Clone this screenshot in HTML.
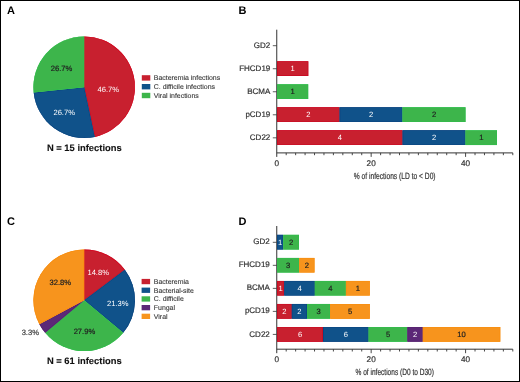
<!DOCTYPE html>
<html><head><meta charset="utf-8"><style>
html,body{margin:0;padding:0;background:#fff;}
svg{display:block;font-family:"Liberation Sans", sans-serif;text-rendering:geometricPrecision;filter:blur(0.3px);}
</style></head><body>
<svg width="520" height="382" viewBox="0 0 520 382">
<rect width="520" height="382" fill="#fff"/>
<rect x="0.5" y="0.5" width="519" height="381" fill="none" stroke="#000" stroke-width="1"/>
<text x="7" y="14.4" font-size="11" fill="#000" text-anchor="start" font-weight="bold" >A</text>
<text x="238.5" y="14.4" font-size="11" fill="#000" text-anchor="start" font-weight="bold" >B</text>
<text x="7" y="225.3" font-size="11" fill="#000" text-anchor="start" font-weight="bold" >C</text>
<text x="238.5" y="225.3" font-size="11" fill="#000" text-anchor="start" font-weight="bold" >D</text>
<clipPath id="c1"><path d="M84.20,87.20 L84.20,36.40 A50.8,50.8 0 0 1 94.76,136.89 Z"/></clipPath><path d="M84.20,87.20 L84.20,36.40 A50.8,50.8 0 0 1 94.76,136.89 Z" fill="#C8202F"/><path d="M84.20,87.20 L84.20,36.40 A50.8,50.8 0 0 1 94.76,136.89 Z" fill="none" stroke="#D4061F" stroke-width="1.3" clip-path="url(#c1)"/>
<clipPath id="c2"><path d="M84.20,87.20 L94.76,136.89 A50.8,50.8 0 0 1 33.68,92.51 Z"/></clipPath><path d="M84.20,87.20 L94.76,136.89 A50.8,50.8 0 0 1 33.68,92.51 Z" fill="#10528A"/><path d="M84.20,87.20 L94.76,136.89 A50.8,50.8 0 0 1 33.68,92.51 Z" fill="none" stroke="#08437F" stroke-width="1.3" clip-path="url(#c2)"/>
<clipPath id="c3"><path d="M84.20,87.20 L33.68,92.51 A50.8,50.8 0 0 1 84.20,36.40 Z"/></clipPath><path d="M84.20,87.20 L33.68,92.51 A50.8,50.8 0 0 1 84.20,36.40 Z" fill="#3DB54B"/><path d="M84.20,87.20 L33.68,92.51 A50.8,50.8 0 0 1 84.20,36.40 Z" fill="none" stroke="#30BE4C" stroke-width="1.3" clip-path="url(#c3)"/>
<text x="108.3" y="92.0" font-size="7.6" fill="#fff" text-anchor="middle" font-weight="normal" >46.7%</text>
<text x="61.6" y="70.5" font-size="7.6" fill="#222" text-anchor="middle" font-weight="normal" stroke="#222" stroke-width="0.2" >26.7%</text>
<text x="64.2" y="114.6" font-size="7.6" fill="#fff" text-anchor="middle" font-weight="normal" >26.7%</text>
<rect x="141.8" y="75.20" width="8.5" height="5.4" fill="#C8202F"/>
<text x="153.8" y="80.3" font-size="6.95" fill="#3a3a3a" text-anchor="start" font-weight="normal" stroke="#3a3a3a" stroke-width="0.12" >Bacteremia infections</text>
<rect x="141.8" y="84.00" width="8.5" height="5.4" fill="#10528A"/>
<text x="153.8" y="89.1" font-size="6.95" fill="#3a3a3a" text-anchor="start" font-weight="normal" stroke="#3a3a3a" stroke-width="0.12" >C. difficile infections</text>
<rect x="141.8" y="92.80" width="8.5" height="5.4" fill="#3DB54B"/>
<text x="153.8" y="97.9" font-size="6.95" fill="#3a3a3a" text-anchor="start" font-weight="normal" stroke="#3a3a3a" stroke-width="0.12" >Viral infections</text>
<text x="84.3" y="151.3" font-size="9.4" fill="#111" text-anchor="middle" font-weight="bold" stroke="#111" stroke-width="0.1" >N = 15 infections</text>
<clipPath id="c4"><path d="M84.20,300.30 L84.20,249.50 A50.8,50.8 0 0 1 124.83,269.81 Z"/></clipPath><path d="M84.20,300.30 L84.20,249.50 A50.8,50.8 0 0 1 124.83,269.81 Z" fill="#C8202F"/><path d="M84.20,300.30 L84.20,249.50 A50.8,50.8 0 0 1 124.83,269.81 Z" fill="none" stroke="#D4061F" stroke-width="1.3" clip-path="url(#c4)"/>
<clipPath id="c5"><path d="M84.20,300.30 L124.83,269.81 A50.8,50.8 0 0 1 123.21,332.84 Z"/></clipPath><path d="M84.20,300.30 L124.83,269.81 A50.8,50.8 0 0 1 123.21,332.84 Z" fill="#10528A"/><path d="M84.20,300.30 L124.83,269.81 A50.8,50.8 0 0 1 123.21,332.84 Z" fill="none" stroke="#08437F" stroke-width="1.3" clip-path="url(#c5)"/>
<clipPath id="c6"><path d="M84.20,300.30 L123.21,332.84 A50.8,50.8 0 0 1 45.19,332.84 Z"/></clipPath><path d="M84.20,300.30 L123.21,332.84 A50.8,50.8 0 0 1 45.19,332.84 Z" fill="#3DB54B"/><path d="M84.20,300.30 L123.21,332.84 A50.8,50.8 0 0 1 45.19,332.84 Z" fill="none" stroke="#30BE4C" stroke-width="1.3" clip-path="url(#c6)"/>
<clipPath id="c7"><path d="M84.20,300.30 L45.19,332.84 A50.8,50.8 0 0 1 39.36,324.17 Z"/></clipPath><path d="M84.20,300.30 L45.19,332.84 A50.8,50.8 0 0 1 39.36,324.17 Z" fill="#5C2877"/><path d="M84.20,300.30 L45.19,332.84 A50.8,50.8 0 0 1 39.36,324.17 Z" fill="none" stroke="#55206F" stroke-width="1.3" clip-path="url(#c7)"/>
<clipPath id="c8"><path d="M84.20,300.30 L39.36,324.17 A50.8,50.8 0 0 1 84.20,249.50 Z"/></clipPath><path d="M84.20,300.30 L39.36,324.17 A50.8,50.8 0 0 1 84.20,249.50 Z" fill="#F7941D"/><path d="M84.20,300.30 L39.36,324.17 A50.8,50.8 0 0 1 84.20,249.50 Z" fill="none" stroke="#F88C0C" stroke-width="1.3" clip-path="url(#c8)"/>
<text x="98.2" y="275.0" font-size="7.6" fill="#fff" text-anchor="middle" font-weight="normal" >14.8%</text>
<text x="117.8" y="305.8" font-size="7.6" fill="#fff" text-anchor="middle" font-weight="normal" >21.3%</text>
<text x="84.4" y="334.4" font-size="7.6" fill="#222" text-anchor="middle" font-weight="normal" stroke="#222" stroke-width="0.2" >27.9%</text>
<text x="60.3" y="285.0" font-size="7.6" fill="#222" text-anchor="middle" font-weight="normal" stroke="#222" stroke-width="0.2" >32.8%</text>
<text x="30.3" y="334.5" font-size="7.6" fill="#444" text-anchor="middle" font-weight="normal" stroke="#444" stroke-width="0.2" >3.3%</text>
<rect x="141.6" y="278.90" width="8.5" height="5.3" fill="#C8202F"/>
<text x="153.8" y="284.0" font-size="6.95" fill="#3a3a3a" text-anchor="start" font-weight="normal" stroke="#3a3a3a" stroke-width="0.12" >Bacteremia</text>
<rect x="141.6" y="287.60" width="8.5" height="5.3" fill="#10528A"/>
<text x="153.8" y="292.7" font-size="6.95" fill="#3a3a3a" text-anchor="start" font-weight="normal" stroke="#3a3a3a" stroke-width="0.12" >Bacterial-site</text>
<rect x="141.6" y="296.30" width="8.5" height="5.3" fill="#3DB54B"/>
<text x="153.8" y="301.4" font-size="6.95" fill="#3a3a3a" text-anchor="start" font-weight="normal" stroke="#3a3a3a" stroke-width="0.12" >C. difficile</text>
<rect x="141.6" y="305.00" width="8.5" height="5.3" fill="#5C2877"/>
<text x="153.8" y="310.1" font-size="6.95" fill="#3a3a3a" text-anchor="start" font-weight="normal" stroke="#3a3a3a" stroke-width="0.12" >Fungal</text>
<rect x="141.6" y="313.70" width="8.5" height="5.3" fill="#F7941D"/>
<text x="153.8" y="318.8" font-size="6.95" fill="#3a3a3a" text-anchor="start" font-weight="normal" stroke="#3a3a3a" stroke-width="0.12" >Viral</text>
<text x="84.3" y="364.2" font-size="9.4" fill="#111" text-anchor="middle" font-weight="bold" stroke="#111" stroke-width="0.1" >N = 61 infections</text>
<line x1="276.75" y1="29.7" x2="276.75" y2="156.9" stroke="#333" stroke-width="1"/>
<line x1="276.75" y1="152.9" x2="512.80" y2="152.9" stroke="#333" stroke-width="1"/>
<line x1="286.19" y1="152.9" x2="286.19" y2="155.20000000000002" stroke="#333" stroke-width="0.9"/>
<line x1="295.63" y1="152.9" x2="295.63" y2="155.20000000000002" stroke="#333" stroke-width="0.9"/>
<line x1="305.08" y1="152.9" x2="305.08" y2="155.20000000000002" stroke="#333" stroke-width="0.9"/>
<line x1="314.52" y1="152.9" x2="314.52" y2="155.20000000000002" stroke="#333" stroke-width="0.9"/>
<line x1="323.96" y1="152.9" x2="323.96" y2="155.20000000000002" stroke="#333" stroke-width="0.9"/>
<line x1="333.40" y1="152.9" x2="333.40" y2="155.20000000000002" stroke="#333" stroke-width="0.9"/>
<line x1="342.84" y1="152.9" x2="342.84" y2="155.20000000000002" stroke="#333" stroke-width="0.9"/>
<line x1="352.29" y1="152.9" x2="352.29" y2="155.20000000000002" stroke="#333" stroke-width="0.9"/>
<line x1="361.73" y1="152.9" x2="361.73" y2="155.20000000000002" stroke="#333" stroke-width="0.9"/>
<line x1="371.17" y1="152.9" x2="371.17" y2="156.9" stroke="#333" stroke-width="0.9"/>
<line x1="380.61" y1="152.9" x2="380.61" y2="155.20000000000002" stroke="#333" stroke-width="0.9"/>
<line x1="390.05" y1="152.9" x2="390.05" y2="155.20000000000002" stroke="#333" stroke-width="0.9"/>
<line x1="399.50" y1="152.9" x2="399.50" y2="155.20000000000002" stroke="#333" stroke-width="0.9"/>
<line x1="408.94" y1="152.9" x2="408.94" y2="155.20000000000002" stroke="#333" stroke-width="0.9"/>
<line x1="418.38" y1="152.9" x2="418.38" y2="155.20000000000002" stroke="#333" stroke-width="0.9"/>
<line x1="427.82" y1="152.9" x2="427.82" y2="155.20000000000002" stroke="#333" stroke-width="0.9"/>
<line x1="437.26" y1="152.9" x2="437.26" y2="155.20000000000002" stroke="#333" stroke-width="0.9"/>
<line x1="446.71" y1="152.9" x2="446.71" y2="155.20000000000002" stroke="#333" stroke-width="0.9"/>
<line x1="456.15" y1="152.9" x2="456.15" y2="155.20000000000002" stroke="#333" stroke-width="0.9"/>
<line x1="465.59" y1="152.9" x2="465.59" y2="156.9" stroke="#333" stroke-width="0.9"/>
<line x1="475.03" y1="152.9" x2="475.03" y2="155.20000000000002" stroke="#333" stroke-width="0.9"/>
<line x1="484.47" y1="152.9" x2="484.47" y2="155.20000000000002" stroke="#333" stroke-width="0.9"/>
<line x1="493.92" y1="152.9" x2="493.92" y2="155.20000000000002" stroke="#333" stroke-width="0.9"/>
<line x1="503.36" y1="152.9" x2="503.36" y2="155.20000000000002" stroke="#333" stroke-width="0.9"/>
<line x1="512.80" y1="152.9" x2="512.80" y2="155.20000000000002" stroke="#333" stroke-width="0.9"/>
<text x="276.75" y="165.50" font-size="8.2" fill="#333333" text-anchor="middle" font-weight="normal" stroke="#333333" stroke-width="0.2" >0</text>
<text x="371.17" y="165.50" font-size="8.2" fill="#333333" text-anchor="middle" font-weight="normal" stroke="#333333" stroke-width="0.2" >20</text>
<text x="465.59" y="165.50" font-size="8.2" fill="#333333" text-anchor="middle" font-weight="normal" stroke="#333333" stroke-width="0.2" >40</text>
<text x="394.7" y="178.80" font-size="9" fill="#333333" text-anchor="middle" font-weight="normal" stroke="#333333" stroke-width="0.2" textLength="81.8" lengthAdjust="spacingAndGlyphs">% of infections (LD to &lt; D0)</text>
<line x1="272.8" y1="45.70" x2="276.75" y2="45.70" stroke="#333" stroke-width="0.8"/>
<text x="270.3" y="47.80" font-size="8.0" fill="#333333" text-anchor="end" font-weight="normal" stroke="#333333" stroke-width="0.2" >GD2</text>
<line x1="272.8" y1="68.73" x2="276.75" y2="68.73" stroke="#333" stroke-width="0.8"/>
<text x="270.3" y="70.83" font-size="8.0" fill="#333333" text-anchor="end" font-weight="normal" stroke="#333333" stroke-width="0.2" >FHCD19</text>
<clipPath id="c9"><path d="M277.00,61.28 H308.30 V75.98 H277.00 Z"/></clipPath><path d="M277.00,61.28 H308.30 V75.98 H277.00 Z" fill="#C8202F"/><path d="M277.00,61.28 H308.30 V75.98 H277.00 Z" fill="none" stroke="#CA0620" stroke-width="1.3" clip-path="url(#c9)"/>
<text x="292.65" y="71.23" font-size="7.6" fill="#fff" text-anchor="middle" font-weight="normal" >1</text>
<line x1="272.8" y1="91.76" x2="276.75" y2="91.76" stroke="#333" stroke-width="0.8"/>
<text x="270.3" y="93.86" font-size="8.0" fill="#333333" text-anchor="end" font-weight="normal" stroke="#333333" stroke-width="0.2" >BCMA</text>
<clipPath id="c10"><path d="M277.00,84.31 H308.20 V99.01 H277.00 Z"/></clipPath><path d="M277.00,84.31 H308.20 V99.01 H277.00 Z" fill="#3DB54B"/><path d="M277.00,84.31 H308.20 V99.01 H277.00 Z" fill="none" stroke="#30BE4C" stroke-width="1.3" clip-path="url(#c10)"/>
<text x="292.60" y="94.26" font-size="7.6" fill="#222" text-anchor="middle" font-weight="normal" stroke="#222" stroke-width="0.2" >1</text>
<line x1="272.8" y1="114.79" x2="276.75" y2="114.79" stroke="#333" stroke-width="0.8"/>
<text x="270.3" y="116.89" font-size="8.0" fill="#333333" text-anchor="end" font-weight="normal" stroke="#333333" stroke-width="0.2" >pCD19</text>
<clipPath id="c11"><path d="M277.00,107.34 H339.60 V122.04 H277.00 Z"/></clipPath><path d="M277.00,107.34 H339.60 V122.04 H277.00 Z" fill="#C8202F"/><path d="M277.00,107.34 H339.60 V122.04 H277.00 Z" fill="none" stroke="#CA0620" stroke-width="1.3" clip-path="url(#c11)"/>
<text x="308.30" y="117.29" font-size="7.6" fill="#fff" text-anchor="middle" font-weight="normal" >2</text>
<clipPath id="c12"><path d="M339.60,107.34 H402.50 V122.04 H339.60 Z"/></clipPath><path d="M339.60,107.34 H402.50 V122.04 H339.60 Z" fill="#10528A"/><path d="M339.60,107.34 H402.50 V122.04 H339.60 Z" fill="none" stroke="#08437F" stroke-width="1.3" clip-path="url(#c12)"/>
<text x="371.05" y="117.29" font-size="7.6" fill="#fff" text-anchor="middle" font-weight="normal" >2</text>
<clipPath id="c13"><path d="M402.50,107.34 H465.50 V122.04 H402.50 Z"/></clipPath><path d="M402.50,107.34 H465.50 V122.04 H402.50 Z" fill="#3DB54B"/><path d="M402.50,107.34 H465.50 V122.04 H402.50 Z" fill="none" stroke="#30BE4C" stroke-width="1.3" clip-path="url(#c13)"/>
<text x="434.00" y="117.29" font-size="7.6" fill="#222" text-anchor="middle" font-weight="normal" stroke="#222" stroke-width="0.2" >2</text>
<line x1="272.8" y1="137.82" x2="276.75" y2="137.82" stroke="#333" stroke-width="0.8"/>
<text x="270.3" y="139.92" font-size="8.0" fill="#333333" text-anchor="end" font-weight="normal" stroke="#333333" stroke-width="0.2" >CD22</text>
<clipPath id="c14"><path d="M277.00,130.37 H402.60 V145.07 H277.00 Z"/></clipPath><path d="M277.00,130.37 H402.60 V145.07 H277.00 Z" fill="#C8202F"/><path d="M277.00,130.37 H402.60 V145.07 H277.00 Z" fill="none" stroke="#CA0620" stroke-width="1.3" clip-path="url(#c14)"/>
<text x="339.80" y="140.32" font-size="7.6" fill="#fff" text-anchor="middle" font-weight="normal" >4</text>
<clipPath id="c15"><path d="M402.60,130.37 H465.50 V145.07 H402.60 Z"/></clipPath><path d="M402.60,130.37 H465.50 V145.07 H402.60 Z" fill="#10528A"/><path d="M402.60,130.37 H465.50 V145.07 H402.60 Z" fill="none" stroke="#08437F" stroke-width="1.3" clip-path="url(#c15)"/>
<text x="434.05" y="140.32" font-size="7.6" fill="#fff" text-anchor="middle" font-weight="normal" >2</text>
<clipPath id="c16"><path d="M465.50,130.37 H497.00 V145.07 H465.50 Z"/></clipPath><path d="M465.50,130.37 H497.00 V145.07 H465.50 Z" fill="#3DB54B"/><path d="M465.50,130.37 H497.00 V145.07 H465.50 Z" fill="none" stroke="#30BE4C" stroke-width="1.3" clip-path="url(#c16)"/>
<text x="481.25" y="140.32" font-size="7.6" fill="#222" text-anchor="middle" font-weight="normal" stroke="#222" stroke-width="0.2" >1</text>
<line x1="276.75" y1="226.0" x2="276.75" y2="353.20000000000005" stroke="#333" stroke-width="1"/>
<line x1="276.75" y1="349.20000000000005" x2="512.80" y2="349.20000000000005" stroke="#333" stroke-width="1"/>
<line x1="286.19" y1="349.20000000000005" x2="286.19" y2="351.50000000000006" stroke="#333" stroke-width="0.9"/>
<line x1="295.63" y1="349.20000000000005" x2="295.63" y2="351.50000000000006" stroke="#333" stroke-width="0.9"/>
<line x1="305.08" y1="349.20000000000005" x2="305.08" y2="351.50000000000006" stroke="#333" stroke-width="0.9"/>
<line x1="314.52" y1="349.20000000000005" x2="314.52" y2="351.50000000000006" stroke="#333" stroke-width="0.9"/>
<line x1="323.96" y1="349.20000000000005" x2="323.96" y2="351.50000000000006" stroke="#333" stroke-width="0.9"/>
<line x1="333.40" y1="349.20000000000005" x2="333.40" y2="351.50000000000006" stroke="#333" stroke-width="0.9"/>
<line x1="342.84" y1="349.20000000000005" x2="342.84" y2="351.50000000000006" stroke="#333" stroke-width="0.9"/>
<line x1="352.29" y1="349.20000000000005" x2="352.29" y2="351.50000000000006" stroke="#333" stroke-width="0.9"/>
<line x1="361.73" y1="349.20000000000005" x2="361.73" y2="351.50000000000006" stroke="#333" stroke-width="0.9"/>
<line x1="371.17" y1="349.20000000000005" x2="371.17" y2="353.20000000000005" stroke="#333" stroke-width="0.9"/>
<line x1="380.61" y1="349.20000000000005" x2="380.61" y2="351.50000000000006" stroke="#333" stroke-width="0.9"/>
<line x1="390.05" y1="349.20000000000005" x2="390.05" y2="351.50000000000006" stroke="#333" stroke-width="0.9"/>
<line x1="399.50" y1="349.20000000000005" x2="399.50" y2="351.50000000000006" stroke="#333" stroke-width="0.9"/>
<line x1="408.94" y1="349.20000000000005" x2="408.94" y2="351.50000000000006" stroke="#333" stroke-width="0.9"/>
<line x1="418.38" y1="349.20000000000005" x2="418.38" y2="351.50000000000006" stroke="#333" stroke-width="0.9"/>
<line x1="427.82" y1="349.20000000000005" x2="427.82" y2="351.50000000000006" stroke="#333" stroke-width="0.9"/>
<line x1="437.26" y1="349.20000000000005" x2="437.26" y2="351.50000000000006" stroke="#333" stroke-width="0.9"/>
<line x1="446.71" y1="349.20000000000005" x2="446.71" y2="351.50000000000006" stroke="#333" stroke-width="0.9"/>
<line x1="456.15" y1="349.20000000000005" x2="456.15" y2="351.50000000000006" stroke="#333" stroke-width="0.9"/>
<line x1="465.59" y1="349.20000000000005" x2="465.59" y2="353.20000000000005" stroke="#333" stroke-width="0.9"/>
<line x1="475.03" y1="349.20000000000005" x2="475.03" y2="351.50000000000006" stroke="#333" stroke-width="0.9"/>
<line x1="484.47" y1="349.20000000000005" x2="484.47" y2="351.50000000000006" stroke="#333" stroke-width="0.9"/>
<line x1="493.92" y1="349.20000000000005" x2="493.92" y2="351.50000000000006" stroke="#333" stroke-width="0.9"/>
<line x1="503.36" y1="349.20000000000005" x2="503.36" y2="351.50000000000006" stroke="#333" stroke-width="0.9"/>
<line x1="512.80" y1="349.20000000000005" x2="512.80" y2="351.50000000000006" stroke="#333" stroke-width="0.9"/>
<text x="276.75" y="361.80" font-size="8.2" fill="#333333" text-anchor="middle" font-weight="normal" stroke="#333333" stroke-width="0.2" >0</text>
<text x="371.17" y="361.80" font-size="8.2" fill="#333333" text-anchor="middle" font-weight="normal" stroke="#333333" stroke-width="0.2" >20</text>
<text x="465.59" y="361.80" font-size="8.2" fill="#333333" text-anchor="middle" font-weight="normal" stroke="#333333" stroke-width="0.2" >40</text>
<text x="394.7" y="375.10" font-size="9" fill="#333333" text-anchor="middle" font-weight="normal" stroke="#333333" stroke-width="0.2" textLength="78.4" lengthAdjust="spacingAndGlyphs">% of infections (D0 to D30)</text>
<line x1="272.8" y1="242.30" x2="276.75" y2="242.30" stroke="#333" stroke-width="0.8"/>
<text x="269.8" y="244.40" font-size="8.0" fill="#333333" text-anchor="end" font-weight="normal" stroke="#333333" stroke-width="0.2" >GD2</text>
<clipPath id="c17"><path d="M277.00,234.85 H283.20 V249.55 H277.00 Z"/></clipPath><path d="M277.00,234.85 H283.20 V249.55 H277.00 Z" fill="#10528A"/><path d="M277.00,234.85 H283.20 V249.55 H277.00 Z" fill="none" stroke="#08437F" stroke-width="1.3" clip-path="url(#c17)"/>
<text x="280.10" y="244.80" font-size="7.6" fill="#fff" text-anchor="middle" font-weight="normal" >1</text>
<clipPath id="c18"><path d="M283.20,234.85 H299.00 V249.55 H283.20 Z"/></clipPath><path d="M283.20,234.85 H299.00 V249.55 H283.20 Z" fill="#3DB54B"/><path d="M283.20,234.85 H299.00 V249.55 H283.20 Z" fill="none" stroke="#30BE4C" stroke-width="1.3" clip-path="url(#c18)"/>
<text x="291.10" y="244.80" font-size="7.6" fill="#222" text-anchor="middle" font-weight="normal" stroke="#222" stroke-width="0.2" >2</text>
<line x1="272.8" y1="265.33" x2="276.75" y2="265.33" stroke="#333" stroke-width="0.8"/>
<text x="269.8" y="267.43" font-size="8.0" fill="#333333" text-anchor="end" font-weight="normal" stroke="#333333" stroke-width="0.2" >FHCD19</text>
<clipPath id="c19"><path d="M277.00,257.88 H299.20 V272.58 H277.00 Z"/></clipPath><path d="M277.00,257.88 H299.20 V272.58 H277.00 Z" fill="#3DB54B"/><path d="M277.00,257.88 H299.20 V272.58 H277.00 Z" fill="none" stroke="#30BE4C" stroke-width="1.3" clip-path="url(#c19)"/>
<text x="288.10" y="267.83" font-size="7.6" fill="#222" text-anchor="middle" font-weight="normal" stroke="#222" stroke-width="0.2" >3</text>
<clipPath id="c20"><path d="M299.20,257.88 H314.50 V272.58 H299.20 Z"/></clipPath><path d="M299.20,257.88 H314.50 V272.58 H299.20 Z" fill="#F7941D"/><path d="M299.20,257.88 H314.50 V272.58 H299.20 Z" fill="none" stroke="#F88C0C" stroke-width="1.3" clip-path="url(#c20)"/>
<text x="306.85" y="267.83" font-size="7.6" fill="#222" text-anchor="middle" font-weight="normal" stroke="#222" stroke-width="0.2" >2</text>
<line x1="272.8" y1="288.36" x2="276.75" y2="288.36" stroke="#333" stroke-width="0.8"/>
<text x="269.8" y="290.46" font-size="8.0" fill="#333333" text-anchor="end" font-weight="normal" stroke="#333333" stroke-width="0.2" >BCMA</text>
<clipPath id="c21"><path d="M277.00,280.91 H284.20 V295.61 H277.00 Z"/></clipPath><path d="M277.00,280.91 H284.20 V295.61 H277.00 Z" fill="#C8202F"/><path d="M277.00,280.91 H284.20 V295.61 H277.00 Z" fill="none" stroke="#CA0620" stroke-width="1.3" clip-path="url(#c21)"/>
<text x="280.60" y="290.86" font-size="7.6" fill="#fff" text-anchor="middle" font-weight="normal" >1</text>
<clipPath id="c22"><path d="M284.20,280.91 H314.80 V295.61 H284.20 Z"/></clipPath><path d="M284.20,280.91 H314.80 V295.61 H284.20 Z" fill="#10528A"/><path d="M284.20,280.91 H314.80 V295.61 H284.20 Z" fill="none" stroke="#08437F" stroke-width="1.3" clip-path="url(#c22)"/>
<text x="299.50" y="290.86" font-size="7.6" fill="#fff" text-anchor="middle" font-weight="normal" >4</text>
<clipPath id="c23"><path d="M314.80,280.91 H345.90 V295.61 H314.80 Z"/></clipPath><path d="M314.80,280.91 H345.90 V295.61 H314.80 Z" fill="#3DB54B"/><path d="M314.80,280.91 H345.90 V295.61 H314.80 Z" fill="none" stroke="#30BE4C" stroke-width="1.3" clip-path="url(#c23)"/>
<text x="330.35" y="290.86" font-size="7.6" fill="#222" text-anchor="middle" font-weight="normal" stroke="#222" stroke-width="0.2" >4</text>
<clipPath id="c24"><path d="M345.90,280.91 H369.80 V295.61 H345.90 Z"/></clipPath><path d="M345.90,280.91 H369.80 V295.61 H345.90 Z" fill="#F7941D"/><path d="M345.90,280.91 H369.80 V295.61 H345.90 Z" fill="none" stroke="#F88C0C" stroke-width="1.3" clip-path="url(#c24)"/>
<text x="357.85" y="290.86" font-size="7.6" fill="#222" text-anchor="middle" font-weight="normal" stroke="#222" stroke-width="0.2" >1</text>
<line x1="272.8" y1="311.39" x2="276.75" y2="311.39" stroke="#333" stroke-width="0.8"/>
<text x="269.8" y="313.49" font-size="8.0" fill="#333333" text-anchor="end" font-weight="normal" stroke="#333333" stroke-width="0.2" >pCD19</text>
<clipPath id="c25"><path d="M277.00,303.94 H291.80 V318.64 H277.00 Z"/></clipPath><path d="M277.00,303.94 H291.80 V318.64 H277.00 Z" fill="#C8202F"/><path d="M277.00,303.94 H291.80 V318.64 H277.00 Z" fill="none" stroke="#CA0620" stroke-width="1.3" clip-path="url(#c25)"/>
<text x="284.40" y="313.89" font-size="7.6" fill="#fff" text-anchor="middle" font-weight="normal" >2</text>
<clipPath id="c26"><path d="M291.80,303.94 H307.00 V318.64 H291.80 Z"/></clipPath><path d="M291.80,303.94 H307.00 V318.64 H291.80 Z" fill="#10528A"/><path d="M291.80,303.94 H307.00 V318.64 H291.80 Z" fill="none" stroke="#08437F" stroke-width="1.3" clip-path="url(#c26)"/>
<text x="299.40" y="313.89" font-size="7.6" fill="#fff" text-anchor="middle" font-weight="normal" >2</text>
<clipPath id="c27"><path d="M307.00,303.94 H330.20 V318.64 H307.00 Z"/></clipPath><path d="M307.00,303.94 H330.20 V318.64 H307.00 Z" fill="#3DB54B"/><path d="M307.00,303.94 H330.20 V318.64 H307.00 Z" fill="none" stroke="#30BE4C" stroke-width="1.3" clip-path="url(#c27)"/>
<text x="318.60" y="313.89" font-size="7.6" fill="#222" text-anchor="middle" font-weight="normal" stroke="#222" stroke-width="0.2" >3</text>
<clipPath id="c28"><path d="M330.20,303.94 H369.80 V318.64 H330.20 Z"/></clipPath><path d="M330.20,303.94 H369.80 V318.64 H330.20 Z" fill="#F7941D"/><path d="M330.20,303.94 H369.80 V318.64 H330.20 Z" fill="none" stroke="#F88C0C" stroke-width="1.3" clip-path="url(#c28)"/>
<text x="350.00" y="313.89" font-size="7.6" fill="#222" text-anchor="middle" font-weight="normal" stroke="#222" stroke-width="0.2" >5</text>
<line x1="272.8" y1="334.42" x2="276.75" y2="334.42" stroke="#333" stroke-width="0.8"/>
<text x="269.8" y="336.52" font-size="8.0" fill="#333333" text-anchor="end" font-weight="normal" stroke="#333333" stroke-width="0.2" >CD22</text>
<clipPath id="c29"><path d="M277.00,326.97 H323.00 V341.67 H277.00 Z"/></clipPath><path d="M277.00,326.97 H323.00 V341.67 H277.00 Z" fill="#C8202F"/><path d="M277.00,326.97 H323.00 V341.67 H277.00 Z" fill="none" stroke="#CA0620" stroke-width="1.3" clip-path="url(#c29)"/>
<text x="300.00" y="336.92" font-size="7.6" fill="#fff" text-anchor="middle" font-weight="normal" >6</text>
<clipPath id="c30"><path d="M323.00,326.97 H368.60 V341.67 H323.00 Z"/></clipPath><path d="M323.00,326.97 H368.60 V341.67 H323.00 Z" fill="#10528A"/><path d="M323.00,326.97 H368.60 V341.67 H323.00 Z" fill="none" stroke="#08437F" stroke-width="1.3" clip-path="url(#c30)"/>
<text x="345.80" y="336.92" font-size="7.6" fill="#fff" text-anchor="middle" font-weight="normal" >6</text>
<clipPath id="c31"><path d="M368.60,326.97 H407.40 V341.67 H368.60 Z"/></clipPath><path d="M368.60,326.97 H407.40 V341.67 H368.60 Z" fill="#3DB54B"/><path d="M368.60,326.97 H407.40 V341.67 H368.60 Z" fill="none" stroke="#30BE4C" stroke-width="1.3" clip-path="url(#c31)"/>
<text x="388.00" y="336.92" font-size="7.6" fill="#222" text-anchor="middle" font-weight="normal" stroke="#222" stroke-width="0.2" >5</text>
<clipPath id="c32"><path d="M407.40,326.97 H422.80 V341.67 H407.40 Z"/></clipPath><path d="M407.40,326.97 H422.80 V341.67 H407.40 Z" fill="#5C2877"/><path d="M407.40,326.97 H422.80 V341.67 H407.40 Z" fill="none" stroke="#55206F" stroke-width="1.3" clip-path="url(#c32)"/>
<text x="415.10" y="336.92" font-size="7.6" fill="#fff" text-anchor="middle" font-weight="normal" >2</text>
<clipPath id="c33"><path d="M422.80,326.97 H500.30 V341.67 H422.80 Z"/></clipPath><path d="M422.80,326.97 H500.30 V341.67 H422.80 Z" fill="#F7941D"/><path d="M422.80,326.97 H500.30 V341.67 H422.80 Z" fill="none" stroke="#F88C0C" stroke-width="1.3" clip-path="url(#c33)"/>
<text x="461.55" y="336.92" font-size="7.6" fill="#222" text-anchor="middle" font-weight="normal" stroke="#222" stroke-width="0.2" >10</text>
</svg>
</body></html>
